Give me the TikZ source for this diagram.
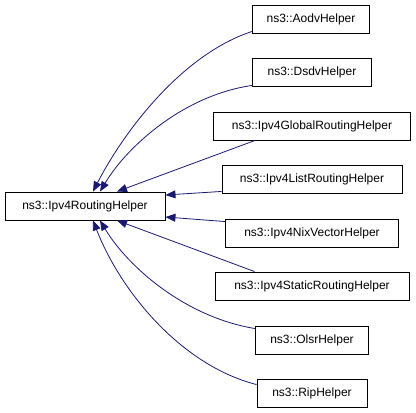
\documentclass[tikz,border=0pt]{standalone}
\usepackage{fontspec}
\setmainfont{Liberation Sans}
\usetikzlibrary{arrows.meta}
\definecolor{midnightblue}{HTML}{191970}
\tikzset{
  classbox/.style={draw=black, line width=0.9pt, fill=white, inner sep=0pt,
    minimum height=28pt, font=\fontsize{12}{14}\selectfont},
  inherit/.style={midnightblue, line width=0.8pt,
    -{Triangle[length=10pt,width=8pt]}}
}
\begin{document}
\begin{tikzpicture}[x=1pt,y=-1pt]
        \useasboundingbox (0,0) rectangle (416,413);
        % base class
        \node[classbox, minimum width=160pt] (base) at (85,206) {ns3::Ipv4RoutingHelper};
        % derived classes
        \node[classbox, minimum width=117pt] (aodv) at (311,19) {ns3::AodvHelper};
        \node[classbox, minimum width=119pt] (dsdv) at (312,72) {ns3::DsdvHelper};
        \node[classbox, minimum width=197pt] (global) at (312,126) {ns3::Ipv4GlobalRoutingHelper};
        \node[classbox, minimum width=180pt] (list) at (312,179) {ns3::Ipv4ListRoutingHelper};
        \node[classbox, minimum width=173pt] (nix) at (312,233) {ns3::Ipv4NixVectorHelper};
        \node[classbox, minimum width=194pt] (static) at (312,286) {ns3::Ipv4StaticRoutingHelper};
        \node[classbox, minimum width=113pt] (olsr) at (312,340) {ns3::OlsrHelper};
        \node[classbox, minimum width=110pt] (rip) at (312,393) {ns3::RipHelper};
        % inheritance edges
        \draw[inherit] ([yshift=2pt]aodv.south west) .. controls (180,55) and (122,135) .. ([xshift=8pt]base.north);
        \draw[inherit] ([yshift=1pt]dsdv.south west) .. controls (185,95) and (128,145) .. ([xshift=15pt]base.north);
        \draw[inherit] ([xshift=42pt]global.south west) -- ([xshift=32pt]base.north);
        \draw[inherit] ([yshift=2pt]list.south west) -- ([yshift=11pt]base.east);
        \draw[inherit] ([yshift=-3pt]nix.north west) -- ([yshift=-11pt]base.east);
        \draw[inherit] ([xshift=40pt]static.north west) -- ([xshift=32pt]base.south);
        \draw[inherit] ([yshift=-3pt]olsr.north west) .. controls (185,317) and (128,267) .. ([xshift=15pt]base.south);
        \draw[inherit] ([yshift=-6pt]rip.north west) .. controls (180,365) and (120,290) .. ([xshift=8pt]base.south);
      \end{tikzpicture}
\end{document}
